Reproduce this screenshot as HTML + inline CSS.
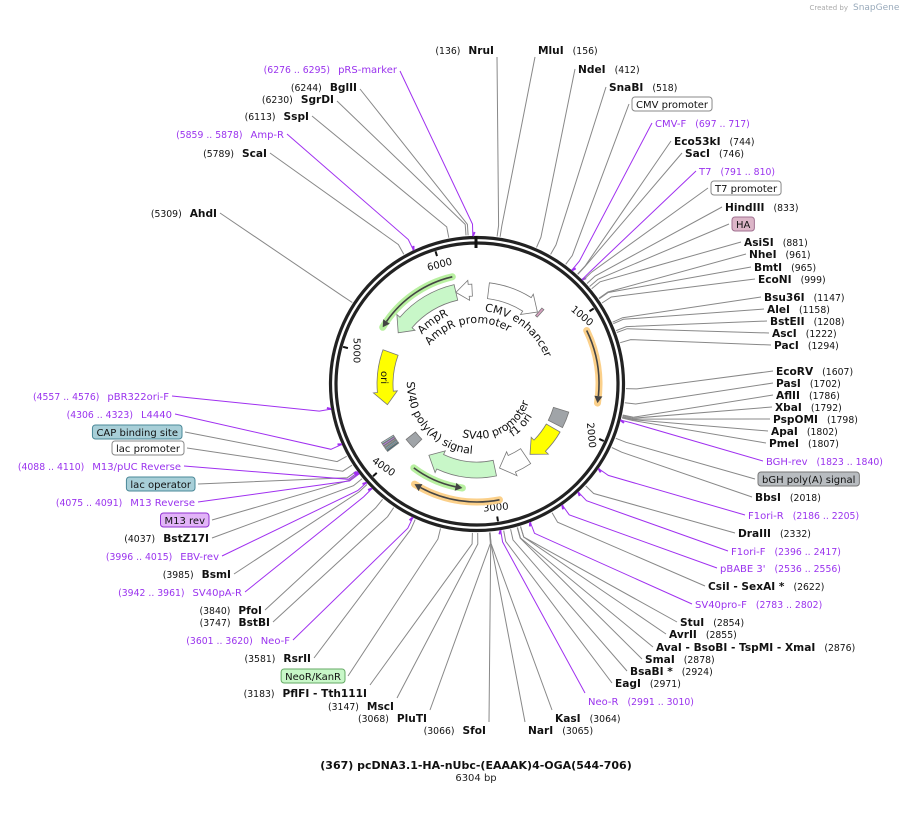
<!DOCTYPE html>
<html><head><meta charset="utf-8"><style>
html,body{margin:0;padding:0;background:#fff;width:908px;height:814px;overflow:hidden}
svg{display:block;font-family:"DejaVu Sans","Liberation Sans",sans-serif}
</style></head><body>
<svg id="s" width="908" height="814" viewBox="0 0 908 814" xmlns="http://www.w3.org/2000/svg">
<text x="848" y="10" font-size="7" fill="#aaa" text-anchor="end">Created by</text>
<text x="853" y="10" font-size="9" fill="#9ab">SnapGene</text>
<text x="476" y="769" font-size="11" font-weight="bold" text-anchor="middle" fill="#111">(367) pcDNA3.1-HA-nUbc-(EAAAK)4-OGA(544-706)</text>
<text x="476" y="781" font-size="10" text-anchor="middle" fill="#222">6304 bp</text>
</svg>
<script>
var S=document.getElementById('s'),NS='http://www.w3.org/2000/svg',cx=477,cy=384,T=6304;
function el(t,a,txt,par){var e=document.createElementNS(NS,t);for(var k in a)e.setAttribute(k,a[k]);if(txt!=null)e.textContent=txt;(par||S).appendChild(e);return e;}
function pt(r,d){var a=d*Math.PI/180;return [cx+r*Math.sin(a),cy-r*Math.cos(a)];}
function P(p){return p[0].toFixed(1)+','+p[1].toFixed(1);}
function arc(r,a1,a2){var sw=a2>a1?1:0,lg=Math.abs(a2-a1)>180?1:0;return 'A'+r+','+r+' 0 '+lg+','+sw+' '+P(pt(r,a2));}
function band(ri,ro,a1,a2,fill,head){
 var d;
 if(head){var dir=a2>a1?1:-1,h=dir*(13/((ri+ro)/2))*180/Math.PI,b=a2-h,m=(ri+ro)/2;
  d='M'+P(pt(ro,a1))+arc(ro,a1,b)+'L'+P(pt(ro+4,b))+'L'+P(pt(m,a2))+'L'+P(pt(ri-4,b))+'L'+P(pt(ri,b))+arc(ri,b,a1)+'Z';}
 else d='M'+P(pt(ro,a1))+arc(ro,a1,a2)+'L'+P(pt(ri,a2))+arc(ri,a2,a1)+'Z';
 el('path',{d:d,fill:fill,stroke:'#777','stroke-width':0.8});
}
function thin(r,a1,a2,glow){
 var dir=a2>a1?1:-1,h=dir*7/r*180/Math.PI,b=a2-h;
 el('path',{d:'M'+P(pt(r,a1))+arc(r,a1,a2),fill:'none',stroke:glow,'stroke-width':7,'stroke-linecap':'round'});
 el('path',{d:'M'+P(pt(r,a1))+arc(r,a1,b),fill:'none',stroke:'#444','stroke-width':1.6});
 el('path',{d:'M'+P(pt(r+4,b))+'L'+P(pt(r,a2))+'L'+P(pt(r-4,b))+'Z',fill:'#444'});
}
el('circle',{cx:cx,cy:cy,r:146.5,fill:'none',stroke:'#222','stroke-width':3.2});
el('circle',{cx:cx,cy:cy,r:141,fill:'none',stroke:'#222','stroke-width':3.2});
el('line',{x1:476,y1:236,x2:476,y2:248,stroke:'#111','stroke-width':3});
[[1000,40],[2000,85],[3000,-5],[4000,35],[5000,90],[6000,-15]].forEach(function(t){
 var a=t[0]/T*360,p1=pt(139,a),p2=pt(134,a);
 el('line',{x1:p1[0],y1:p1[1],x2:p2[0],y2:p2[1],stroke:'#111','stroke-width':2});
 var q=pt(125,a);
 el('text',{x:q[0],y:q[1]+3,'font-size':10,'text-anchor':'middle',fill:'#111',transform:'rotate('+t[1]+' '+q[0]+' '+q[1]+')'},String(t[0]));
});
thin(110,347,301,'#b8f0a0');
thin(122,64,99,'#fbd08a');
thin(118,169,212,'#fbd08a');
thin(105,217,188,'#b8f0a0');
band(86,102,347,303,'#c8f7c8',1);
band(88,100,357,347,'#fff',1);
band(86,102,7,40,'#fff',1);
band(84,100,290,257,'#ffff00',1);
band(80,96,107,117,'#a0a4a8',0);
band(80,96,120,143,'#ffff00',1);
band(78,96,146,165,'#fff',1);
band(78,94,168,214,'#c8f7c8',1);
band(78,90,225,232,'#a0a4a8',0);
band(90,100,40.5,42,'#d8a0c0',0);
[['#3a6a7a',233],['#7ab',234.3],['#a0a4a8',235.5],['#c080f0',236.6],['#a8cfd8',237.7]].forEach(function(s){band(98,112,s[1],s[1]+0.8,s[0],0);});
var pid=0;
function ctext(txt,r,a1,a2,fs){var id='tp'+(pid++);el('path',{id:id,d:'M'+P(pt(r,a1))+arc(r,a1,a2),fill:'none'});var t=el('text',{'font-size':fs||11,fill:'#111'});el('textPath',{href:'#'+id},txt,t);}
ctext('AmpR',74,312,345);
ctext('AmpR promoter',61,309,400);
ctext('CMV enhancer',73,6,75);
ctext('SV40 poly(A) signal',70,272,175);
ctext('SV40 promoter',55,196,110);
ctext('f1 ori',64,146,115);
(function(){var q=pt(92,274);el('text',{x:q[0],y:q[1]+4,'font-size':10,'text-anchor':'middle',fill:'#111',transform:'rotate(90 '+q[0]+' '+q[1]+')'},'ori');})();
var PUR='#9a33ee',PL='#a030f0',GL='#888';
var L=[
['L',494,50,'NruI','(136)',136],['R',538,50,'MluI','(156)',156],['R',578,69,'NdeI','(412)',412],['R',609,87,'SnaBI','(518)',518],
['R',632,104,'CMV promoter','',640,'b','#fff','#888'],['R',655,123,'CMV-F','(697 .. 717)',697,'p'],
['R',674,141,'Eco53kI','(744)',744],['R',685,153,'SacI','(746)',746],['R',699,171,'T7','(791 .. 810)',791,'p'],
['R',711,188,'T7 promoter','',800,'b','#fff','#888'],['R',725,207,'HindIII','(833)',833],['R',732,224,'HA','',860,'b','#dcb6c8','#a07090'],
['R',744,242,'AsiSI','(881)',881],['R',749,254,'NheI','(961)',961],['R',754,267,'BmtI','(965)',965],['R',758,279,'EcoNI','(999)',999],
['R',764,297,'Bsu36I','(1147)',1147],['R',767,309,'AleI','(1158)',1158],['R',770,321,'BstEII','(1208)',1208],['R',772,333,'AscI','(1222)',1222],['R',774,345,'PacI','(1294)',1294],
['R',776,371,'EcoRV','(1607)',1607],['R',776,383,'PasI','(1702)',1702],['R',776,395,'AflII','(1786)',1786],['R',775,407,'XbaI','(1792)',1792],['R',773,419,'PspOMI','(1798)',1798],['R',771,431,'ApaI','(1802)',1802],['R',769,443,'PmeI','(1807)',1807],
['R',766,461,'BGH-rev','(1823 .. 1840)',1823,'p'],['R',758,479,'bGH poly(A) signal','',1950,'b','#b8bcc0','#777'],
['R',755,497,'BbsI','(2018)',2018],['R',748,515,'F1ori-R','(2186 .. 2205)',2186,'p'],['R',738,533,'DraIII','(2332)',2332],['R',731,551,'F1ori-F','(2396 .. 2417)',2396,'p'],
['R',720,568,"pBABE 3'",'(2536 .. 2556)',2536,'p'],['R',708,586,'CsiI  - SexAI *','(2622)',2622],['R',695,604,'SV40pro-F','(2783 .. 2802)',2783,'p'],
['R',680,622,'StuI','(2854)',2854],['R',669,634,'AvrII','(2855)',2855],['R',656,647,'AvaI  - BsoBI  - TspMI  - XmaI','(2876)',2876],['R',645,659,'SmaI','(2878)',2878],
['R',630,671,'BsaBI *','(2924)',2924],['R',615,683,'EagI','(2971)',2971],['R',588,701,'Neo-R','(2991 .. 3010)',2991,'p'],['R',555,718,'KasI','(3064)',3064],['R',528,730,'NarI','(3065)',3065],
['L',486,730,'SfoI','(3066)',3066],['L',427,718,'PluTI','(3068)',3068],['L',394,706,'MscI','(3147)',3147],['L',367,693,'PflFI  - Tth111I','(3183)',3183],
['L',345,676,'NeoR/KanR','',3400,'b','#c8f7c8','#6a6'],['L',311,658,'RsrII','(3581)',3581],['L',290,640,'Neo-F','(3601 .. 3620)',3601,'p'],
['L',270,622,'BstBI','(3747)',3747],['L',262,610,'PfoI','(3840)',3840],['L',242,592,'SV40pA-R','(3942 .. 3961)',3942,'p'],['L',231,574,'BsmI','(3985)',3985],
['L',219,556,'EBV-rev','(3996 .. 4015)',3996,'p'],['L',209,538,'BstZ17I','(4037)',4037],['L',209,520,'M13 rev','',4080,'b','#e2b4f8','#9030d0'],
['L',195,502,'M13 Reverse','(4075 .. 4091)',4075,'p'],['L',195,484,'lac operator','',4100,'b','#a8cfd8','#4a8898'],['L',181,466,'M13/pUC Reverse','(4088 .. 4110)',4088,'p'],
['L',184,448,'lac promoter','',4150,'b','#fff','#888'],['L',182,432,'CAP binding site','',4220,'b','#a8cfd8','#4a8898'],
['L',172,414,'L4440','(4306 .. 4323)',4306,'p'],['L',169,396,'pBR322ori-F','(4557 .. 4576)',4557,'p'],
['L',217,213,'AhdI','(5309)',5309],['L',267,153,'ScaI','(5789)',5789],['L',284,134,'Amp-R','(5859 .. 5878)',5859,'p'],['L',309,116,'SspI','(6113)',6113],
['L',334,99,'SgrDI','(6230)',6230],['L',357,87,'BglII','(6244)',6244],['L',397,69,'pRS-marker','(6276 .. 6295)',6276,'p']
];
L.forEach(function(l){
 var side=l[0],x=l[1],y=l[2],nm=l[3],num=l[4],bp=l[5],k=l[6]||'e',a=bp/T*360;
 var col=k=='p'?PUR:'#111';
 var g=el('text',{x:x,y:y+4,'text-anchor':side=='L'?'end':'start','xml:space':'preserve'});
 var nmAttr={'font-size':10,fill:col};if(k=='e'){nmAttr['font-weight']='bold';nmAttr['font-size']=10.6;}
 var w=0;
 if(k=='b'){
  var t=el('text',{x:0,y:0,'font-size':10},nm);w=t.getComputedTextLength?t.getComputedTextLength():nm.length*6;S.removeChild(t);
  var bx=side=='L'?x-w-8:x;
  el('rect',{x:bx,y:y-7,width:w+8,height:14,rx:3,fill:l[7],stroke:l[8],'stroke-width':1});
  el('text',{x:bx+4,y:y+4,'font-size':10,fill:'#111'},nm);
 } else if(side=='R'){
  el('tspan',nmAttr,nm,g);el('tspan',{'font-size':9.3,fill:col,dx:9},num,g);
 } else {
  el('tspan',{'font-size':9.3,fill:col},num,g);el('tspan',nmAttr,nm,g).setAttribute('dx',8);
 }
 var ax,ay;
 if(side=='R'){ax=x-3;ay=y;if(y<60)ay=y+7;if(y>690)ay=y-8;}
 else{ax=x+3;ay=y;if(y<60){ax=497;ay=57;}else if(y<110)ay=y+2;if(y>690)ay=y-8;}
 var p1=pt(149,a),p2=pt(160,a);
 el('polyline',{points:P(p1)+' '+P(p2)+' '+ax+','+ay,fill:'none',stroke:k=='p'?PL:GL,'stroke-width':1});
 if(k=='p'){var m1=pt(148,a),m2=pt(152,a+0.7);el('line',{x1:m1[0],y1:m1[1],x2:m2[0],y2:m2[1],stroke:PL,'stroke-width':2});}
});
</script>
</body></html>
